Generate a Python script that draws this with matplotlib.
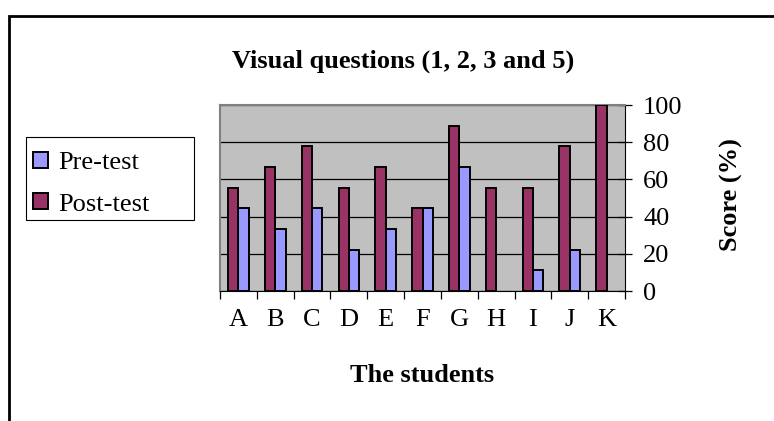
import matplotlib.pyplot as plt
from matplotlib.patches import Rectangle
import numpy as np

# scores per student, in percent
students = ['A', 'B', 'C', 'D', 'E', 'F', 'G', 'H', 'I', 'J', 'K']
pre_test = [44.4, 33.3, 44.4, 22.2, 33.3, 44.4, 66.7, 0, 11.1, 22.2, 0]
post_test = [55.6, 66.7, 77.8, 55.6, 66.7, 44.4, 88.9, 55.6, 55.6, 77.8, 100]
y_ticks = [0, 20, 40, 60, 80, 100]

plt.rcParams['font.family'] = ['Liberation Serif', 'DejaVu Serif']

W, H = 774, 421
fig = plt.figure(figsize=(W / 100, H / 100), dpi=100)
ax = fig.add_axes([220 / W, 1 - 291 / H, 405 / W, 186 / H])

x = np.arange(len(students))
w = 0.28
post_bars = ax.bar(x - w / 2, post_test, w, color='#993366', edgecolor='black',
                   linewidth=1.4, label='Post-test', zorder=3)
pre_bars = ax.bar(x + w / 2, pre_test, w, color='#9999FF', edgecolor='black',
                  linewidth=1.4, label='Pre-test', zorder=3)
# empty bars leave no outline
for b in list(post_bars) + list(pre_bars):
    if b.get_height() == 0:
        b.set_visible(False)

ax.set_facecolor('#C0C0C0')
ax.set_xlim(-0.5, len(students) - 0.5)
ax.set_ylim(0, 100)

ax.yaxis.tick_right()
ax.set_yticks(y_ticks)
ax.tick_params(axis='y', direction='inout', length=10, width=0.9,
               labelsize=19, pad=8)
ax.yaxis.grid(True, color='black', linewidth=0.9, zorder=1)
ax.set_axisbelow(True)

# category labels centred, ticks on the boundaries
ax.set_xticks(x)
ax.set_xticklabels(students, fontsize=19)
ax.tick_params(axis='x', length=0, pad=13)
ax.set_xticks(np.arange(-0.5, len(students), 1), minor=True)
ax.tick_params(axis='x', which='minor', length=6, width=0.9)

for side in ['top', 'left']:
    ax.spines[side].set_color('#808080')
    ax.spines[side].set_linewidth(1.5)
ax.spines['bottom'].set_color('black')
ax.spines['right'].set_color('black')

fig.text(403 / W, 1 - 61 / H, 'Visual questions (1, 2, 3 and 5)', fontsize=19,
         fontweight='bold', ha='center', va='center')
fig.text(422 / W, 1 - 376 / H, 'The students', fontsize=19, fontweight='bold',
         ha='center', va='center')
fig.text(731 / W, 1 - 195 / H, 'Score (%)', fontsize=19, fontweight='bold',
         ha='center', va='center', rotation=90)

# legend with pre-test listed first, inside a wider box
handles, labels = ax.get_legend_handles_labels()
leg = fig.legend(handles[::-1], labels[::-1], loc='upper left',
                 bbox_to_anchor=(33 / W, 1 - 152 / H), fontsize=19,
                 frameon=False, handlelength=0.55, handleheight=0.55,
                 handletextpad=0.4, labelspacing=0.72, borderpad=0,
                 borderaxespad=0)
fig.patches.append(Rectangle((26 / W, 1 - 220 / H), 168 / W, 83 / H,
                             transform=fig.transFigure, fill=False,
                             edgecolor='black', linewidth=0.8))

# outer chart frame
fig.patches.append(Rectangle((9 / W, -0.1), 1.1, 1 - 16 / H + 0.1,
                             transform=fig.transFigure, fill=False,
                             edgecolor='black', linewidth=2))

fig.savefig('out.png', dpi=100)
